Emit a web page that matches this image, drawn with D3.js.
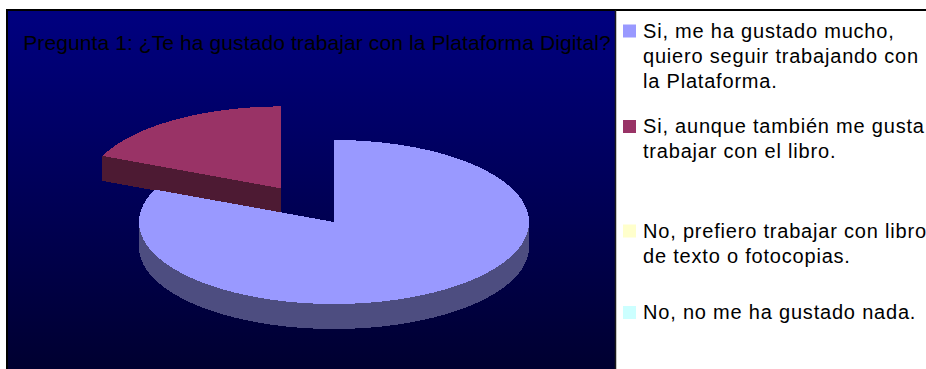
<!DOCTYPE html>
<html>
<head>
<meta charset="utf-8">
<script src="https://cdn.jsdelivr.net/npm/d3@7"></script>
<style>
  html, body { margin: 0; padding: 0; background: #fff; overflow: hidden; }
  text { font-family: "Liberation Sans", Arial, sans-serif; }
</style>
</head>
<body>
<svg id="chart" width="926" height="369"></svg>
<script>
// ---- data ----
const title = "Pregunta 1: ¿Te ha gustado trabajar con la Plataforma Digital?";
const categories = [
  "Si, me ha gustado mucho, quiero seguir trabajando con la Plataforma.",
  "Si, aunque también me gusta trabajar con el libro.",
  "No, prefiero trabajar con libro de texto o fotocopias.",
  "No, no me ha gustado nada."
];
const legendLines = [
  ["Si, me ha gustado mucho,", "quiero seguir trabajando con", "la Plataforma."],
  ["Si, aunque también me gusta", "trabajar con el libro."],
  ["No, prefiero trabajar con libro", "de texto o fotocopias."],
  ["No, no me ha gustado nada."]
];
const values = [22, 5, 0, 0];
const colors = ["#9999FF", "#993366", "#FFFFCC", "#CCFFFF"];
const explodeFrac = [0, 0.49, 0, 0];

// ---- layout ----
const W = 926, H = 369;
const plot = { x0: 7, y0: 10, x1: 615.5, y1: 380 };
const pie3d = { cx: 334, cy: 222, rx: 195, ry: 82, depth: 25 };

const svg = d3.select("#chart");
const defs = svg.append("defs");

const grad = defs.append("linearGradient")
  .attr("id", "bg").attr("x1", 0).attr("y1", 0).attr("x2", 0).attr("y2", 1);
grad.append("stop").attr("offset", "0%").attr("stop-color", "#000080");
grad.append("stop").attr("offset", "100%").attr("stop-color", "#00002e");

// plot area with gradient background
svg.append("rect")
  .attr("x", plot.x0).attr("y", plot.y0)
  .attr("width", plot.x1 - plot.x0).attr("height", plot.y1 - plot.y0)
  .attr("fill", "url(#bg)");

// chart frame lines
svg.append("line").attr("x1", 6).attr("x2", W).attr("y1", 10).attr("y2", 10)
  .attr("stroke", "#000").attr("stroke-width", 2);
svg.append("line").attr("x1", 7).attr("x2", 7).attr("y1", 9).attr("y2", H)
  .attr("stroke", "#000").attr("stroke-width", 2);
svg.append("line").attr("x1", plot.x1).attr("x2", plot.x1).attr("y1", 10).attr("y2", H)
  .attr("stroke", "#1a1a1a").attr("stroke-width", 1.5);

// ---- 3D pie ----
const pie = d3.pie().sort(null).value(d => d.value).startAngle(0).endAngle(2 * Math.PI);
const arcs = pie(values.map((v, i) => ({ value: v, i }))).filter(a => a.value > 0);

function shade(c, k) {
  const r = d3.rgb(c);
  return d3.rgb(r.r * k, r.g * k, r.b * k).formatHex();
}

arcs.forEach(a => {
  const mid = (a.startAngle + a.endAngle) / 2;
  const e = explodeFrac[a.data.i];
  a.ox = pie3d.cx + e * pie3d.rx * Math.sin(mid);
  a.oy = pie3d.cy - e * pie3d.ry * Math.cos(mid);
});
// back slices first
arcs.sort((p, q) => p.oy - q.oy);

function pt(a, ang, dz) {
  return [a.ox + pie3d.rx * Math.sin(ang), a.oy - pie3d.ry * Math.cos(ang) + dz];
}
function arcPts(a, t0, t1, dz) {
  const n = Math.max(2, Math.ceil((t1 - t0) / 0.01));
  return d3.range(n + 1).map(k => pt(a, t0 + (t1 - t0) * k / n, dz));
}
const line = d3.line();
const gPie = svg.append("g").attr("shape-rendering", "crispEdges");

arcs.forEach(a => {
  const top = colors[a.data.i];
  const side = shade(top, 0.5);
  const g = gPie.append("g");
  const D = pie3d.depth;
  const c0 = [a.ox, a.oy], c1 = [a.ox, a.oy + D];

  // radial walls facing the viewer
  if (Math.sin(a.startAngle) < -1e-6) {
    const p = pt(a, a.startAngle, 0), q = pt(a, a.startAngle, D);
    g.append("path").attr("d", line([c0, p, q, c1]) + "Z").attr("fill", side);
  }
  if (Math.sin(a.endAngle) > 1e-6) {
    const p = pt(a, a.endAngle, 0), q = pt(a, a.endAngle, D);
    g.append("path").attr("d", line([c0, p, q, c1]) + "Z").attr("fill", side);
  }
  // outer wall on the front half of the ellipse
  const s = Math.max(a.startAngle, Math.PI / 2), t = Math.min(a.endAngle, 3 * Math.PI / 2);
  if (t > s) {
    const pts = arcPts(a, s, t, 0).concat(arcPts(a, s, t, D).reverse());
    g.append("path").attr("d", line(pts) + "Z").attr("fill", side);
  }
  // top face
  const topPts = [c0].concat(arcPts(a, a.startAngle, a.endAngle, 0));
  g.append("path").attr("d", line(topPts) + "Z").attr("fill", top);
});

// ---- title ----
svg.append("text")
  .attr("x", 317).attr("y", 50)
  .attr("text-anchor", "middle")
  .attr("font-size", 21)
  .attr("letter-spacing", 0.1)
  .attr("fill", "#000")
  .text(title);

// ---- legend ----
const lineH = 25.3;
const legendBase = [37.5, 133, 237.5, 319];
const gLeg = svg.append("g");
legendLines.forEach((lines, i) => {
  const y = legendBase[i];
  gLeg.append("rect")
    .attr("x", 623).attr("y", y - 13).attr("width", 13).attr("height", 13)
    .attr("fill", colors[i]);
  const t = gLeg.append("text")
    .attr("x", 643).attr("y", y)
    .attr("font-size", 20)
    .attr("letter-spacing", 0.8)
    .attr("fill", "#000");
  lines.forEach((ln, k) => {
    t.append("tspan").attr("x", 643).attr("y", y + k * lineH).text(ln);
  });
});
</script>
</body>
</html>
